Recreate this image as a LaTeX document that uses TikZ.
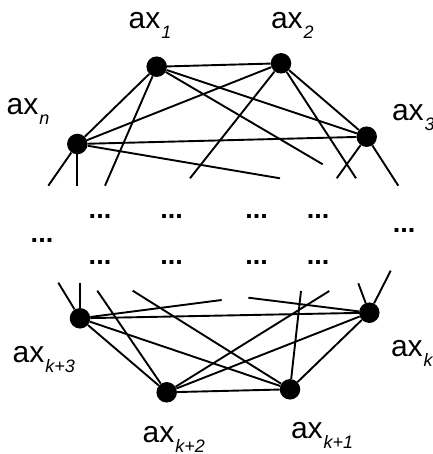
\documentclass[tikz,border=0pt]{standalone}
\usepackage{fontspec}
\setmainfont{Liberation Sans}
% vertex label: upright "ax" with a lowered italic index
\newcommand\axlabel[1]{ax\kern1pt\raisebox{-10pt}{\fontsize{18}{18}\selectfont\itshape #1}}
\begin{document}
\begin{tikzpicture}[x=1pt,y=-1pt,
  vertex/.style={circle,fill=black,inner sep=0pt,minimum size=20.5pt},
  edge/.style={line width=1.9pt},
  lbl/.style={anchor=base west,inner sep=0pt,font=\fontsize{30}{30}\selectfont},
  dotrow/.style={inner sep=0pt,font=\fontsize{27}{27}\selectfont\bfseries}]
\useasboundingbox (0,0) rectangle (432,454);
\clip (0,0) rectangle (432,454);

% ---- upper group of vertices
\node[vertex] (a1) at (156.7,66.7) {};
\node[vertex] (a2) at (281,63.3) {};
\node[vertex] (an) at (77.3,144) {};
\node[vertex] (a3) at (366.7,136.7) {};

\node[lbl] (l1) at (128.5,28.3) {\axlabel{1}};
\node[lbl] (l2) at (270.8,28.3) {\axlabel{2}};
\node[lbl] (ln) at (6.5,115) {\axlabel{n}};
\node[lbl] (l3) at (391.8,121) {\axlabel{3}};

% loose ends of the upper edges
\coordinate (u1) at (48.3,185.7);
\coordinate (u2) at (77.3,185.7);
\coordinate (u3) at (105,185.7);
\coordinate (u4) at (190,178.3);
\coordinate (u5) at (280,178.3);
\coordinate (u6) at (322.7,164.3);
\coordinate (u7) at (356,178.3);
\coordinate (u8) at (336.7,178.3);
\coordinate (u9) at (398.3,185.7);

\draw[edge] (a1) -- (a2);
\draw[edge] (a1) -- (an);
\draw[edge] (a1) -- (a3);
\draw[edge] (a2) -- (an);
\draw[edge] (a2) -- (a3);
\draw[edge] (an) -- (a3);
\draw[edge] (an) -- (u1);
\draw[edge] (an) -- (u2);
\draw[edge] (a1) -- (u3);
\draw[edge] (a2) -- (u4);
\draw[edge] (an) -- (u5);
\draw[edge] (a1) -- (u6);
\draw[edge] (a2) -- (u7);
\draw[edge] (a3) -- (u8);
\draw[edge] (a3) -- (u9);

% ---- ellipses in between
\node[dotrow] (d1) at (100,216.7) {...};
\node[dotrow] (d2) at (171.7,216.7) {...};
\node[dotrow] (d3) at (256.5,216.7) {...};
\node[dotrow] (d4) at (318,216.7) {...};
\node[dotrow] (d5) at (42,240) {...};
\node[dotrow] (d6) at (404,230.7) {...};
\node[dotrow] (d7) at (100,262.7) {...};
\node[dotrow] (d8) at (171.7,262.7) {...};
\node[dotrow] (d9) at (256.5,262.7) {...};
\node[dotrow] (d10) at (318,262.7) {...};

% ---- lower group of vertices
\node[vertex] (k3) at (80,318.3) {};
\node[vertex] (k0) at (369.3,312.7) {};
\node[vertex] (k2) at (166.7,392.3) {};
\node[vertex] (k1) at (290,389.3) {};

\node[lbl] (lk3) at (12.5,362.3) {\axlabel{k+3}};
\node[lbl] (lk0) at (390.8,356.7) {\axlabel{k}};
\node[lbl] (lk2) at (142.5,442) {\axlabel{k+2}};
\node[lbl] (lk1) at (290.8,438.3) {\axlabel{k+1}};

% loose ends of the lower edges
\coordinate (b1) at (58.3,282.7);
\coordinate (b2) at (80,282.7);
\coordinate (b3) at (221.7,300);
\coordinate (b4) at (248.3,297.7);
\coordinate (b5) at (358.3,283.3);
\coordinate (b6) at (390.7,270.7);
\coordinate (b7) at (97.3,290.7);
\coordinate (b8) at (132.7,290.7);
\coordinate (b9) at (301,291);
\coordinate (b10) at (329.3,291);

\draw[edge] (k3) -- (k0);
\draw[edge] (k3) -- (k2);
\draw[edge] (k3) -- (k1);
\draw[edge] (k0) -- (k2);
\draw[edge] (k0) -- (k1);
\draw[edge] (k2) -- (k1);
\draw[edge] (k3) -- (b1);
\draw[edge] (k3) -- (b2);
\draw[edge] (k3) -- (b3);
\draw[edge] (k0) -- (b4);
\draw[edge] (k0) -- (b5);
\draw[edge] (k0) -- (b6);
\draw[edge] (k2) -- (b7);
\draw[edge] (k1) -- (b8);
\draw[edge] (k1) -- (b9);
\draw[edge] (k2) -- (b10);
\end{tikzpicture}
\end{document}
